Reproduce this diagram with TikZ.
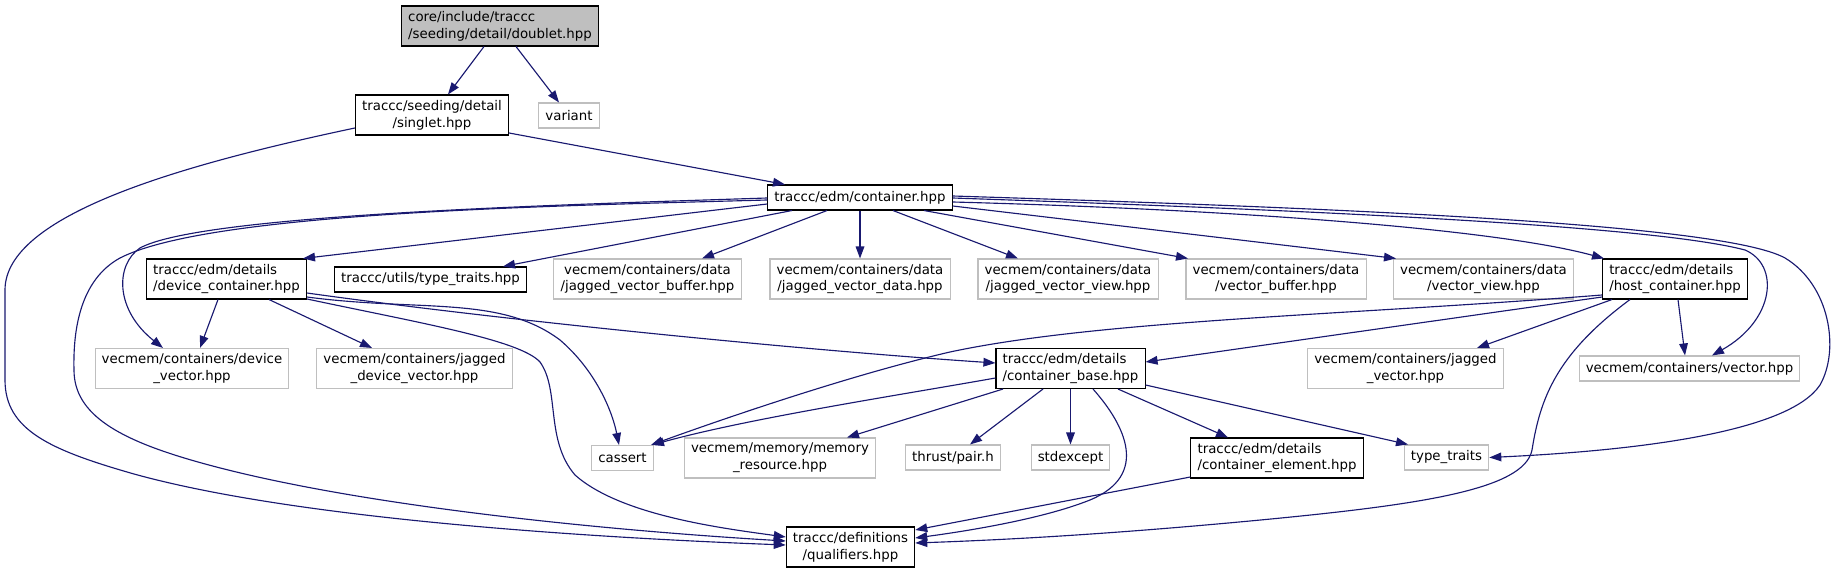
\documentclass[tikz,border=0pt]{standalone}
\usepackage{fontspec}
\setmainfont{DejaVu Sans}
\usepackage{tikz}
\usetikzlibrary{positioning, arrows.meta}

\definecolor{edgeblue}{HTML}{191970}
\definecolor{extgray}{HTML}{BFBFBF}

\begin{document}
\begin{tikzpicture}[
    x=0.75pt, y=-0.75pt,
    hdr/.style={draw=black, line width=0.8pt, fill=white, font=\fontsize{10}{12.5}\selectfont, inner xsep=5pt, inner ysep=2pt, minimum height=18.75pt},
    twoline/.style={minimum height=30pt},
    exthdr/.style={hdr, draw=extgray},
    mainhdr/.style={hdr, fill=extgray},
    dep/.style={draw=edgeblue, line width=0.85pt, -{Triangle[length=9pt, width=6.5pt]}}
]
    \useasboundingbox (0,0) rectangle (1839,573);

    % included files
    \node[mainhdr, twoline, align=left] (doublet) at (500,26) {core/include/traccc\\/seeding/detail/doublet.hpp};
    \node[hdr, twoline, align=center] (singlet) at (432,115) {traccc/seeding/detail\\/singlet.hpp};
    \node[exthdr] (variant) at (569,115.5) {variant};
    \node[hdr] (container) at (860,197.5) {traccc/edm/container.hpp};

    \node[hdr, twoline, align=left] (devcont) at (226.5,279) {traccc/edm/details\\/device\_container.hpp};
    \node[hdr] (utiltraits) at (430.5,279.5) {traccc/utils/type\_traits.hpp};
    \node[exthdr, twoline, align=center] (jvbuffer) at (647.5,279) {vecmem/containers/data\\/jagged\_vector\_buffer.hpp};
    \node[exthdr, twoline, align=center] (jvdata) at (860,279) {vecmem/containers/data\\/jagged\_vector\_data.hpp};
    \node[exthdr, twoline, align=center] (jvview) at (1068,279) {vecmem/containers/data\\/jagged\_vector\_view.hpp};
    \node[exthdr, twoline, align=center] (vbuffer) at (1276,279) {vecmem/containers/data\\/vector\_buffer.hpp};
    \node[exthdr, twoline, align=center] (vview) at (1483.5,279) {vecmem/containers/data\\/vector\_view.hpp};
    \node[hdr, twoline, align=left] (hostcont) at (1675,279) {traccc/edm/details\\/host\_container.hpp};

    \node[exthdr, twoline, align=center] (devvec) at (192,368.5) {vecmem/containers/device\\\_vector.hpp};
    \node[exthdr, twoline, align=center] (jdevvec) at (414.5,368.5) {vecmem/containers/jagged\\\_device\_vector.hpp};
    \node[hdr, twoline, align=left] (contbase) at (1070.5,368.5) {traccc/edm/details\\/container\_base.hpp};
    \node[exthdr, twoline, align=center] (jvec) at (1405.5,368.5) {vecmem/containers/jagged\\\_vector.hpp};
    \node[exthdr] (vec) at (1689.5,368.5) {vecmem/containers/vector.hpp};

    \node[exthdr] (cassert) at (622.5,458) {cassert};
    \node[exthdr, twoline, align=center] (memres) at (780,458) {vecmem/memory/memory\\\_resource.hpp};
    \node[exthdr] (pair) at (953,457.5) {thrust/pair.h};
    \node[exthdr] (stdexcept) at (1070.5,457.5) {stdexcept};
    \node[hdr, twoline, align=left] (contelem) at (1277,458) {traccc/edm/details\\/container\_element.hpp};
    \node[exthdr] (typetraits) at (1446.5,457.5) {type\_traits};

    \node[hdr, twoline, align=center] (qualifiers) at (850.5,547) {traccc/definitions\\/qualifiers.hpp};

    % doublet.hpp and singlet.hpp
    \draw[dep] (doublet.south -| 484,0) -- (singlet.north -| 448,0);
    \draw[dep] (doublet.south -| 516,0) -- (variant.north -| 559,0);
    \draw[dep] (singlet.east |- 0,133) -- (container.north -| 785,0);
    \draw[dep] (singlet.west |- 0,128) .. controls (180,165) and (5,215) .. (5,290) -- (5,380)
        .. controls (5,430) and (50,450) .. (134,474) .. controls (300,520) and (600,538) .. (qualifiers.west |- 0,545);

    % container.hpp
    \draw[dep] (container.west |- 0,204) -- (devcont.north -| 303,0);
    \draw[dep] (container.south -| 792,0) -- (utiltraits.north -| 503,0);
    \draw[dep] (container.south -| 827,0) -- (jvbuffer.north -| 702,0);
    \draw[dep] (container.south) -- (jvdata.north);
    \draw[dep] (container.south -| 893,0) -- (jvview.north -| 1018,0);
    \draw[dep] (container.south -| 924,0) -- (vbuffer.north -| 1188,0);
    \draw[dep] (container.east |- 0,206) -- (vview.north -| 1396,0);
    \draw[dep] (container.east |- 0,202) .. controls (1250,210) and (1500,230) .. (hostcont.north -| 1604,0);
    \draw[dep] (container.west |- 0,198) .. controls (550,205) and (200,215) .. (140,248)
        .. controls (115,265) and (115,310) .. (devvec.north -| 163,0);
    \draw[dep] (container.west |- 0,200) .. controls (550,206) and (210,212) .. (120,258)
        .. controls (80,280) and (73,330) .. (74,370) .. controls (74,415) and (120,440) .. (198,462)
        .. controls (350,505) and (600,530) .. (qualifiers.west |- 0,541);
    \draw[dep] (container.east |- 0,198) .. controls (1300,210) and (1650,225) .. (1745,250)
        .. controls (1780,265) and (1775,320) .. (vec.north -| 1712,0);
    \draw[dep] (container.east |- 0,196) .. controls (1300,207) and (1720,222) .. (1785,258)
        .. controls (1830,285) and (1840,350) .. (1820,385) .. controls (1790,430) and (1650,450) .. (typetraits.east);

    % device_container.hpp
    \draw[dep] (devcont.south -| 218,0) -- (devvec.north -| 200,0);
    \draw[dep] (devcont.south -| 269,0) -- (jdevvec.north -| 372,0);
    \draw[dep] (devcont.east |- 0,297) .. controls (420,312) and (500,295) .. (560,340)
        .. controls (595,370) and (612,410) .. (cassert.north -| 619,0);
    \draw[dep] (devcont.east |- 0,293) .. controls (500,320) and (800,350) .. (contbase.west |- 0,363);
    \draw[dep] (devcont.east |- 0,299) .. controls (420,323) and (520,340) .. (540,362)
        .. controls (560,390) and (545,440) .. (575,475) .. controls (620,515) and (720,528) .. (qualifiers.west |- 0,537);

    % host_container.hpp
    \draw[dep] (hostcont.west |- 0,297) -- (contbase.east |- 0,362);
    \draw[dep] (hostcont.west |- 0,295) .. controls (1350,315) and (1100,320) .. (950,352)
        .. controls (850,375) and (720,420) .. (cassert.north -| 651,0);
    \draw[dep] (hostcont.south -| 1612,0) -- (jvec.north -| 1477,0);
    \draw[dep] (hostcont.south -| 1678,0) -- (vec.north -| 1685,0);
    \draw[dep] (hostcont.south -| 1630,0) .. controls (1555,355) and (1540,400) .. (1532,450)
        .. controls (1524,490) and (1420,505) .. (1250,521) .. controls (1100,535) and (1000,540) .. (qualifiers.east |- 0,543);

    % container_base.hpp
    \draw[dep] (contbase.west |- 0,378) .. controls (900,395) and (750,418) .. (cassert.north -| 652,0);
    \draw[dep] (contbase.south -| 1003,0) -- (memres.north -| 847,0);
    \draw[dep] (contbase.south -| 1043,0) -- (pair.north -| 970,0);
    \draw[dep] (contbase.south) -- (stdexcept.north);
    \draw[dep] (contbase.south -| 1118,0) -- (contelem.north -| 1228,0);
    \draw[dep] (contbase.east |- 0,385) -- (typetraits.north -| 1408,0);
    \draw[dep] (contbase.south -| 1093,0) .. controls (1125,425) and (1150,475) .. (1090,500)
        .. controls (1040,520) and (960,532) .. (qualifiers.east |- 0,538);

    % container_element.hpp
    \draw[dep] (contelem.west |- 0,477) -- (qualifiers.east |- 0,530);
\end{tikzpicture}
\end{document}
